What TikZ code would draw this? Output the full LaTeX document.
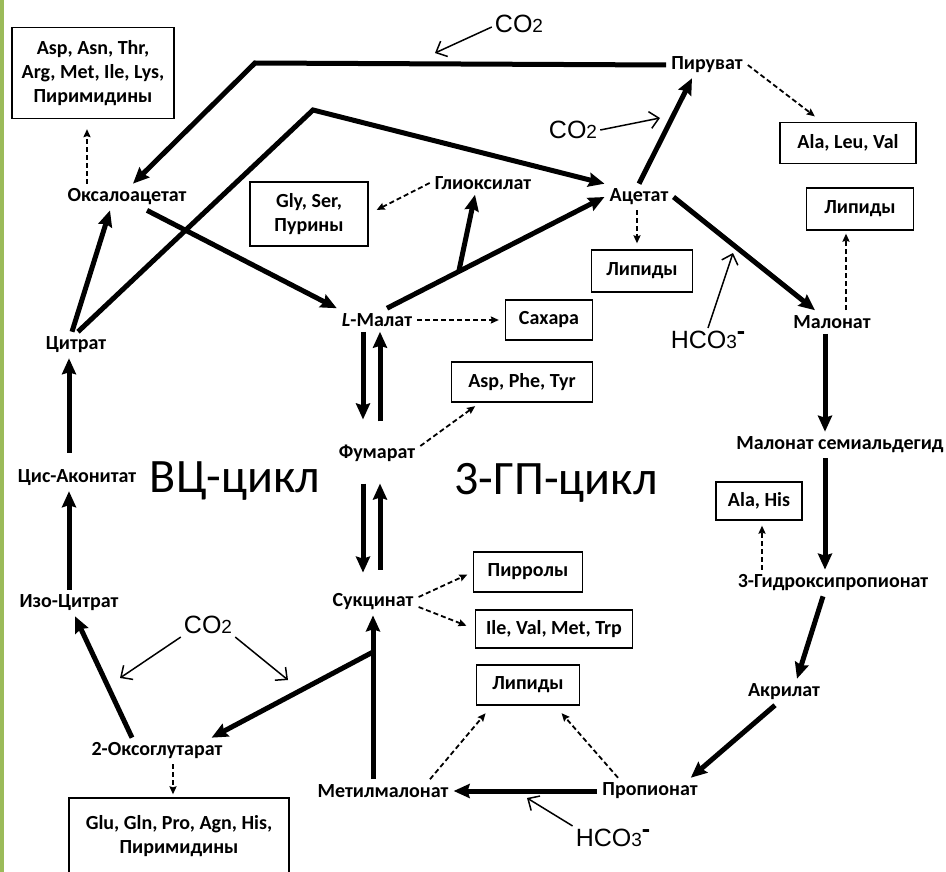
\documentclass[tikz,border=0pt]{standalone}
\usepackage{fontspec}
\setmainfont{Carlito}
\newfontfamily\arialf{Liberation Sans}
\usetikzlibrary{arrows.meta, calc}
\definecolor{barcol}{RGB}{155,187,89}
\newcommand\cotwo{CO{\fontsize{19}{19}\selectfont 2}}
\newcommand\hcothree{HCO{\fontsize{19}{19}\selectfont 3}\raisebox{9pt}{\bfseries -}}

\begin{document}
\begin{tikzpicture}[
        x=1pt, y=-1pt,
        met/.style={font=\fontsize{20}{24}\selectfont\bfseries, inner sep=5pt},
        prod/.style={draw, line width=1.3pt, font=\fontsize{20}{24}\selectfont\bfseries, align=center, minimum height=40pt, inner sep=3pt},
        gas/.style={font=\arialf\fontsize{25}{28}\selectfont, inner sep=3pt},
        cyc/.style={font=\fontsize{48}{50}\selectfont},
        main/.style={-{Stealth[length=16pt,width=14pt,inset=2pt]}, line width=5pt},
        feed/.style={-{Straight Barb[length=9pt,width=17pt]}, line width=1.5pt},
        side/.style={-{Stealth[length=8pt,width=7pt,inset=1pt]}, line width=1.8pt, dash pattern=on 5pt off 3pt}
    ]
    \fill[white] (0,0) rectangle (946,872);
    \useasboundingbox (0,0) rectangle (946,872);
    \fill[barcol] (0,0) rectangle (4,872);

    \node[prod, minimum width=162pt, minimum height=91pt] (aspbox) at (93,73) {Asp, Asn, Thr,\\Arg, Met, Ile, Lys,\\Пиримидины};
    \node[prod, minimum width=220pt, minimum height=76pt] (glubox) at (179,836) {Glu, Gln, Pro, Agn, His,\\Пиримидины};
    \node[prod, minimum width=118pt, minimum height=64pt] (glybox) at (309,214) {Gly, Ser,\\Пурины};
    \node[prod, minimum width=87pt] (saharbox) at (549,320) {Сахара};
    \node[prod, minimum width=101pt, minimum height=42pt] (lipbox1) at (642,271) {Липиды};
    \node[prod, minimum width=136pt, minimum height=41pt] (alabox) at (848,143) {Ala, Leu, Val};
    \node[prod, minimum width=107pt, minimum height=42pt] (lipbox2) at (860,209) {Липиды};
    \node[prod, minimum width=141pt] (aspphebox) at (522,382) {Asp, Phe, Tyr};
    \node[prod, minimum width=109pt] (pyrrbox) at (528,572) {Пирролы};
    \node[prod, minimum width=157pt, minimum height=38pt] (ilebox) at (554,629) {Ile, Val, Met, Trp};
    \node[prod, minimum width=103pt] (lipbox3) at (528,685) {Липиды};
    \node[prod, minimum width=86pt, minimum height=38pt] (alahisbox) at (759,501) {Ala, His};

    \node[met] (oxal) at (127,197) {Оксалоацетат};
    \node[met] (cit) at (76,345) {Цитрат};
    \node[met] (cisacon) at (77,478) {Цис-Аконитат};
    \node[met] (isocit) at (69,603) {Изо-Цитрат};
    \node[met] (oxoglu) at (157,751) {2-Оксоглутарат};
    \node[met] (glyox) at (483,183) {Глиоксилат};
    \node[met] (malate) at (377,320) {\textit{L}-Малат};
    \node[met] (acet) at (639,197) {Ацетат};
    \node[met] (pyr) at (707,65) {Пируват};
    \node[met] (malon) at (832,322) {Малонат};
    \node[met] (fum) at (377,453) {Фумарат};
    \node[met] (succ) at (373,602) {Сукцинат};
    \node[met] (methyl) at (383,791) {Метилмалонат};
    \node[met] (propion) at (650,791) {Пропионат};
    \node[met] (acryl) at (784,692) {Акрилат};
    \node[met] (hp) at (833,583) {3-Гидроксипропионат};
    \node[met] (msa) at (840,445) {Малонат семиальдегид};

    \node[gas] (co2t) at (519,24) {\cotwo};
    \node[gas] (co2a) at (573,130) {\cotwo};
    \node[gas] (co2c) at (208,625) {\cotwo};
    \node[gas] (hco3a) at (708,340) {\hcothree};
    \node[gas] (hco3b) at (613,838) {\hcothree};

    \node[cyc] (vc) at (235,481) {ВЦ-цикл};
    \node[cyc] (gp) at (556,483) {3-ГП-цикл};

    \coordinate (c1) at (255,63);
    \coordinate (c2) at (313,110);
    \coordinate (m1) at ([xshift=10pt]malate.north);
    \coordinate (br1) at ($(m1)!0.33!(acet.west)$);
    \coordinate (br2) at (373,652);

    \draw[main] (pyr.west) -- (c1) -- ([xshift=6pt]oxal.north);
    \draw[main] ([xshift=-4pt]cit.north) -- ([xshift=-17pt]oxal.south);
    \draw[main] ([xshift=2pt]cit.north) -- (c2) -- (acet.north west);
    \draw[main] ([xshift=20pt]oxal.south) -- (malate.north west);
    \draw[main] (m1) -- (acet.west);
    \draw[main] (br1) -- ([xshift=-8pt]glyox.south);
    \draw[main] (acet.north) -- ([xshift=-15pt]pyr.south);
    \draw[main] (acet.east) -- ([xshift=-17pt]malon.north);
    \draw[main] ([xshift=-7pt]malon.south) -- ([xshift=-15pt]msa.north);
    \draw[main] ([xshift=-15pt]msa.south) -- ([xshift=-8pt]hp.north);
    \draw[main] ([xshift=-10pt]hp.south) -- ([xshift=13pt]acryl.north);
    \draw[main] ([xshift=-9pt]acryl.south) -- ([xshift=-12pt]propion.north east);
    \draw[main] (propion.west) -- (methyl.east);
    \draw[main] (succ.south |- methyl.north) -- (succ.south);
    \draw[main] (br2) -- ([xshift=-16pt]oxoglu.north east);
    \draw[main] ([xshift=-25pt]oxoglu.north) -- ([xshift=6pt]isocit.south);
    \draw[main] (isocit.north) -- (isocit.north |- cisacon.south);
    \draw[main, shorten <=12pt] (isocit.north |- cisacon.north) -- (isocit.north |- cit.south);
    \draw[main, shorten >=20pt] ([xshift=-14pt]malate.south) -- ([xshift=-14pt]fum.north);
    \draw[main, shorten <=18pt] ([xshift=3pt]fum.north) -- ([xshift=3pt]malate.south);
    \draw[main, shorten <=17pt, shorten >=16pt] ([xshift=-14pt]fum.south) -- ([xshift=-14pt]fum.south |- succ.north);
    \draw[main, shorten <=19pt, shorten >=17pt] ([xshift=3pt]fum.south |- succ.north) -- ([xshift=3pt]fum.south);

    \coordinate (t1) at (435,53);
    \coordinate (t2) at (660,118);
    \coordinate (t3) at (733,253);
    \coordinate (t4) at (120,678);
    \coordinate (t5) at (288,680);
    \coordinate (t6) at (527,798);
    \draw[feed] ([yshift=-3pt]co2t.west) -- (t1);
    \draw[feed] (co2a.east) -- (t2);
    \draw[feed] (hco3a.north) -- (t3);
    \draw[feed] (co2c.south west) -- (t4);
    \draw[feed] (co2c.south east) -- (t5);
    \draw[feed] (hco3b.north west) -- (t6);

    \draw[side, shorten >=10pt] ([xshift=-40pt]oxal.north) -- ([xshift=-40pt]oxal.north |- aspbox.south);
    \draw[side, shorten >=9pt] (pyr.east) -- ([xshift=-26pt]alabox.north);
    \draw[side, shorten >=9pt] (glyox.west) -- (glybox.east);
    \draw[side, shorten >=6pt] ([xshift=-2pt]acet.south) -- ([xshift=-2pt]acet.south |- lipbox1.north);
    \draw[side, shorten >=3pt] ([xshift=14pt]malon.north) -- ([xshift=14pt]malon.north |- lipbox2.south);
    \draw[side, shorten >=6pt] (malate.east) -- (saharbox.west);
    \draw[side, shorten >=6pt] ([yshift=7pt]fum.east) -- ([xshift=-42pt]aspphebox.south);
    \draw[side, shorten >=6pt] ([yshift=5pt]succ.east) -- (pyrrbox.west);
    \draw[side, shorten >=9pt] ([yshift=-5pt]succ.east) -- (ilebox.west);
    \draw[side, shorten >=10pt] ([xshift=47pt]methyl.north) -- ([xshift=-36pt]lipbox3.south);
    \draw[side, shorten >=10pt] ([xshift=-32pt]propion.north) -- ([xshift=27pt]lipbox3.south);
    \draw[side, shorten >=5pt] ([xshift=-71pt]hp.north) -- ([xshift=-71pt]hp.north |- alahisbox.south);
    \draw[side, shorten >=3pt] ([xshift=16pt]oxoglu.south) -- ([xshift=16pt]oxoglu.south |- glubox.north);
\end{tikzpicture}
\end{document}
